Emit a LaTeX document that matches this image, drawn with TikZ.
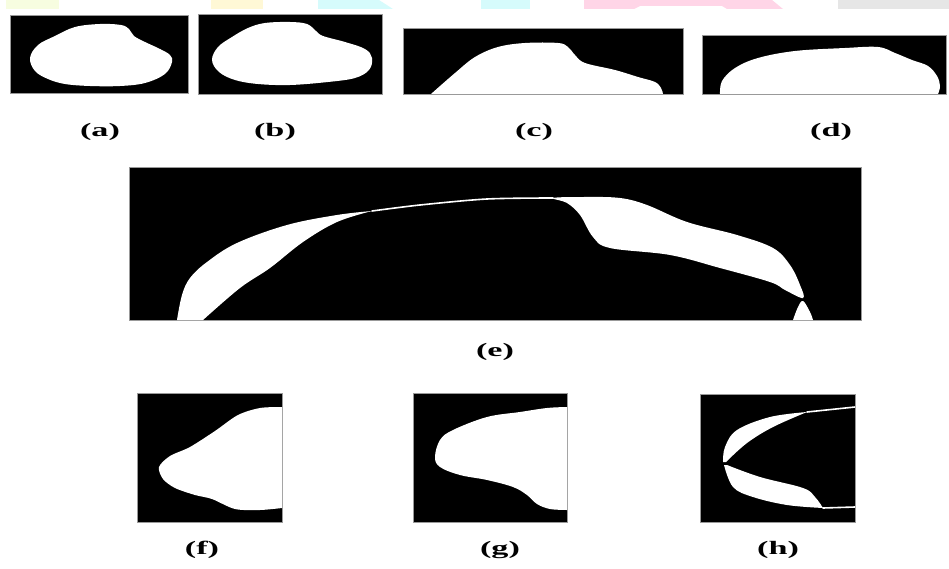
\documentclass[tikz,border=0pt]{standalone}
\usepackage{fontspec}
\setmainfont{Liberation Serif}
\usepackage{tikz}

\definecolor{barYellow}{HTML}{F7FDE0}
\definecolor{barCream}{HTML}{FFF8D6}
\definecolor{barCyan}{HTML}{D6FBFC}
\definecolor{barPink}{HTML}{FFD5E7}
\definecolor{barGray}{HTML}{E6E6E6}

\newcommand{\widelbl}[1]{\scalebox{1.8}[1]{#1}}

\tikzset{
    lbl/.style={font=\fontsize{19}{19}\selectfont\bfseries, inner sep=0pt},
    panel/.style={fill=black, draw=black!40, line width=0.4pt},
    blob/.style={fill=white},
    sliver/.style={draw=white, line width=1.6pt, line cap=round}
}

\begin{document}
\begin{tikzpicture}[x=1pt, y=-1pt]

    \useasboundingbox (0,0) rectangle (949,569);

    % barres de color (capçalera)
    \fill[barYellow] (6,0) rectangle (59,9);
    \fill[barCream] (211,0) rectangle (263,9);
    \fill[barCyan] (318,0) -- (379,0) -- (393,9) -- (318,9) -- cycle;
    \fill[barCyan] (481,0) rectangle (530,9);
    \fill[barPink] (584,0) -- (772,0) -- (783,9) -- (727,9)
        -- (722,6) -- (640,6) -- (634,9) -- (584,9) -- cycle;
    \fill[barGray] (838,0) rectangle (949,9);

    % (a)
    \filldraw[panel] (10,15) rectangle (188,93);
    \fill[blob] plot[smooth cycle, tension=0.6] coordinates {
        (30,58) (38,45) (55,36) (75,27) (100,24) (121,25)
        (129,29) (134,36) (145,42) (160,49) (170,55) (172,62)
        (165,74) (145,83) (120,86) (90,86) (65,84) (48,79) (35,71)};
    \node[lbl] (la) at (100,132) {\widelbl{(a)}};

    % (b)
    \filldraw[panel] (198,14) rectangle (382,94);
    \fill[blob] plot[smooth cycle, tension=0.6] coordinates {
        (212,60) (218,47) (232,37) (248,28) (265,23) (290,22)
        (307,24) (316,31) (323,36) (345,42) (365,49) (372,58)
        (369,70) (355,78) (328,82) (290,85) (258,84) (235,80) (219,72)};
    \node[lbl] (lb) at (275,132) {\widelbl{(b)}};

    % (c)
    \filldraw[panel] (403,28) rectangle (683,94);
    \begin{scope}
        \clip (403,28) rectangle (683,94);
        \fill[blob] plot[smooth, tension=0.6] coordinates {
            (431,94) (455,73) (475,57) (498,47) (525,43) (558,43)
            (568,47) (575,55) (585,63) (615,70) (638,77) (655,82)
            (661,88) (663,94)} -- cycle;
    \end{scope}
    \node[lbl] (lc) at (534,132) {\widelbl{(c)}};

    % (d)
    \filldraw[panel] (702,35) rectangle (946,94);
    \begin{scope}
        \clip (702,35) rectangle (946,94);
        \fill[blob] plot[smooth, tension=0.6] coordinates {
            (720,94) (722,81) (735,68) (758,58) (795,51) (845,48)
            (878,47) (895,53) (912,60) (928,66) (937,76) (940,86)
            (938,94)} -- cycle;
    \end{scope}
    \node[lbl] (ld) at (831,132) {\widelbl{(d)}};

    % (e)
    \filldraw[panel] (129,167) rectangle (861,320);
    \begin{scope}
        \clip (129,167) rectangle (861,320);
        \fill[blob] plot[smooth, tension=0.6] coordinates {
            (177,320) (182,295) (190,278) (207,262) (237,243)
            (287,225) (337,215) (372,211)}
            -- plot[smooth, tension=0.6] coordinates {
            (372,211) (337,222) (303,242) (270,268) (240,288)
            (203,320)} -- cycle;
        \draw[sliver] plot[smooth] coordinates {
            (372,211) (420,205) (487,199) (553,198)};
        \fill[blob] plot[smooth cycle, tension=0.6] coordinates {
            (553,198) (585,197) (620,198) (647,205) (687,222)
            (737,235) (773,248) (790,265) (800,285) (803,298)
            (785,290) (770,282) (720,268) (670,255) (610,248)
            (593,237) (580,215) (567,203)};
        \fill[blob] plot[smooth, tension=0.6] coordinates {
            (793,320) (798,307) (803,301) (810,312) (813,320)} -- cycle;
    \end{scope}
    \node[lbl] (le) at (495,352) {\widelbl{(e)}};

    % (f)
    \filldraw[panel] (137,393) rectangle (282,522);
    \begin{scope}
        \clip (137,393) rectangle (282,522);
        \fill[blob] plot[smooth, tension=0.5] coordinates {
            (282,407) (260,408) (238,415) (215,431) (190,447)
            (170,456) (159,467) (163,479) (175,488) (195,495)
            (212,499) (235,509) (260,510) (282,508)} -- cycle;
    \end{scope}
    \node[lbl] (lf) at (202,550) {\widelbl{(f)}};

    % (g)
    \filldraw[panel] (413,393) rectangle (567,522);
    \begin{scope}
        \clip (413,393) rectangle (567,522);
        \fill[blob] plot[smooth, tension=0.6] coordinates {
            (567,407) (547,408) (520,412) (487,417) (453,430)
            (440,440) (435,457) (440,467) (460,475) (487,480)
            (513,487) (527,495) (537,504) (550,509) (567,510)} -- cycle;
    \end{scope}
    \node[lbl] (lg) at (500,550) {\widelbl{(g)}};

    % (h)
    \filldraw[panel] (700,394) rectangle (855,522);
    \begin{scope}
        \clip (700,394) rectangle (855,522);
        \fill[blob] plot[smooth, tension=0.6] coordinates {
            (723,462) (725,447) (737,430) (770,417) (807,412)}
            -- plot[smooth, tension=0.6] coordinates {
            (807,412) (773,427) (747,443) (726,462)} -- cycle;
        \draw[sliver] (807,412) -- (855,407);
        \fill[blob] plot[smooth, tension=0.6] coordinates {
            (724,465) (733,487) (753,497) (787,505) (823,508)}
            -- plot[smooth, tension=0.6] coordinates {
            (823,508) (815,497) (803,488) (760,477) (727,465)} -- cycle;
        \draw[sliver] (823,508) -- (855,507);
    \end{scope}
    \node[lbl] (lh) at (778,550) {\widelbl{(h)}};

\end{tikzpicture}
\end{document}
